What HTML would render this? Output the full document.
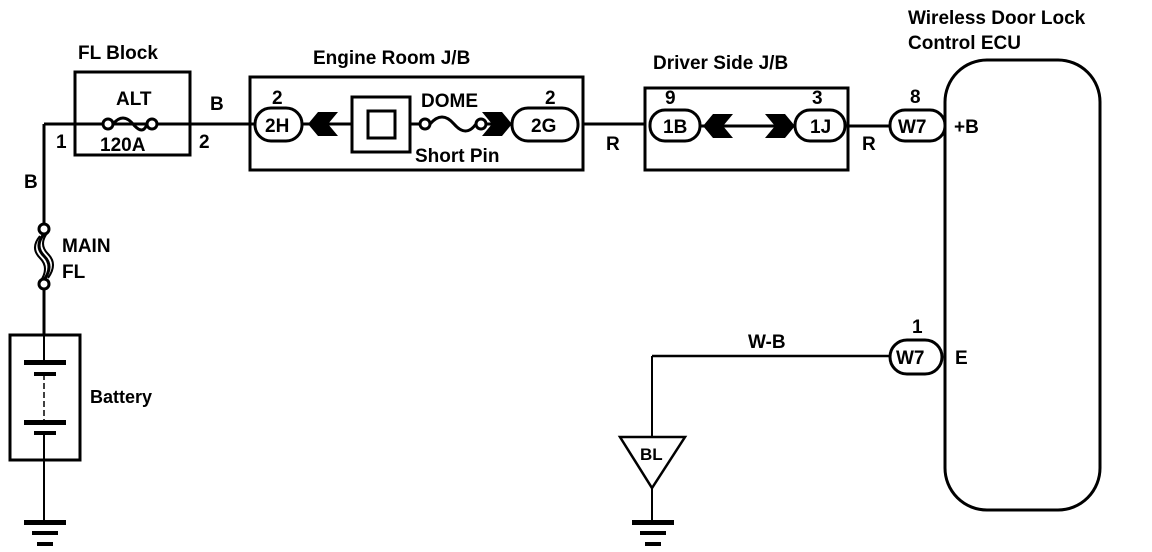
<!DOCTYPE html>
<html><head><meta charset="utf-8"><style>
html,body{margin:0;padding:0;background:#fff;}
svg{display:block;}
text{font-family:"Liberation Sans",Arial,sans-serif;font-weight:bold;font-size:19px;fill:#000;}
.c{font-size:19px;}
</style></head><body>
<svg width="1152" height="552" viewBox="0 0 1152 552" xmlns="http://www.w3.org/2000/svg">
<g stroke="#000" stroke-width="3" fill="none">
<line x1="44" y1="124" x2="255" y2="124"/>
<line x1="44" y1="124" x2="44" y2="224"/>
<line x1="44" y1="289" x2="44" y2="335"/>
<rect x="75" y="72" width="115" height="83"/>
<rect x="250" y="77" width="333" height="93"/>
<rect x="352" y="97" width="58" height="55"/>
<rect x="368" y="111" width="27" height="27"/>
<line x1="302" y1="124" x2="352" y2="124"/>
<line x1="410" y1="124" x2="420" y2="124"/>
<line x1="486" y1="124" x2="505" y2="124"/>
<line x1="583" y1="124" x2="645" y2="124"/>
<rect x="645" y="88" width="203" height="82"/>
<line x1="700" y1="126" x2="795" y2="126"/>
<line x1="848" y1="126" x2="890" y2="126"/>
<rect x="945" y="60" width="155" height="450" rx="42"/>
<line x1="652" y1="356" x2="890" y2="356" stroke-width="2.5"/>
<line x1="652" y1="356" x2="652" y2="437" stroke-width="2"/>
<polygon points="620,437 685,437 652,488" stroke-width="2.5"/>
<line x1="652" y1="488" x2="652" y2="522" stroke-width="2"/>
<rect x="10" y="335" width="70" height="125"/>
<line x1="44" y1="335" x2="44" y2="362" stroke-width="2"/>
<line x1="44" y1="374" x2="44" y2="422" stroke-width="1.5" stroke-dasharray="6,3"/>
<line x1="44" y1="433" x2="44" y2="522" stroke-width="2"/>
</g>
<g fill="#000">
<rect x="24" y="360" width="42" height="5"/><rect x="34" y="372" width="22" height="4"/>
<rect x="24" y="420" width="42" height="5"/><rect x="34" y="431" width="22" height="4"/>
<rect x="24" y="520" width="42" height="5"/><rect x="32" y="531" width="26" height="4"/><rect x="37" y="542" width="16" height="4"/>
<rect x="632" y="520" width="42" height="5"/><rect x="640" y="531" width="26" height="4"/><rect x="645" y="542" width="16" height="4"/>
<polygon points="308,124 318,112 338,112 328,124 338,136 318,136"/>
<polygon points="512,124 502,112 482,112 492,124 482,136 502,136"/>
<polygon points="703,126 713,114 733,114 723,126 733,138 713,138"/>
<polygon points="795,126 785,114 765,114 775,126 765,138 785,138"/>
</g>
<g stroke="#000" stroke-width="3" fill="#fff">
<circle cx="108" cy="124" r="5"/><circle cx="152" cy="124" r="5"/>
<circle cx="425" cy="124" r="5"/><circle cx="481" cy="124" r="5"/>
<circle cx="44" cy="229" r="5"/><circle cx="44" cy="284" r="5"/>
<rect x="255" y="108" width="47" height="33" rx="16"/>
<rect x="512" y="108" width="66" height="33" rx="16"/>
<rect x="650" y="110" width="50" height="31" rx="15"/>
<rect x="795" y="110" width="50" height="31" rx="15"/>
<rect x="890" y="110" width="55" height="31" rx="15"/>
<rect x="890" y="340" width="52" height="34" rx="17"/>
</g>
<g stroke="#000" stroke-width="3" fill="none">
<path d="M113,124 q10,-12 20,0 t14,0"/>
<path d="M430,124 q12,-14 24,0 t22,0"/>
<path d="M44,234 q-10,12 0,22 t0,24"/>
<path d="M40,236 q-10,12 0,22 t0,24" stroke-width="2"/>
<path d="M48,232 q-10,12 0,22 t0,24" stroke-width="2"/>
</g>
<text x="78" y="59">FL Block</text>
<text x="116" y="105">ALT</text>
<text x="100" y="151">120A</text>
<text x="56" y="148">1</text>
<text x="199" y="148">2</text>
<text x="210" y="110">B</text>
<text x="24" y="188">B</text>
<text x="62" y="252">MAIN</text>
<text x="62" y="278">FL</text>
<text x="90" y="403" style="font-size:18px">Battery</text>
<text x="313" y="64">Engine Room J/B</text>
<text x="272" y="104">2</text>
<text x="545" y="104">2</text>
<text x="265" y="132" class="c">2H</text>
<text x="531" y="132" class="c">2G</text>
<text x="421" y="107">DOME</text>
<text x="415" y="162">Short Pin</text>
<text x="606" y="150">R</text>
<text x="653" y="69">Driver Side J/B</text>
<text x="665" y="104">9</text>
<text x="812" y="104">3</text>
<text x="663" y="133" class="c">1B</text>
<text x="810" y="133" class="c">1J</text>
<text x="862" y="150">R</text>
<text x="910" y="103">8</text>
<text x="898" y="133" class="c">W7</text>
<text x="954" y="133">+B</text>
<text x="908" y="24">Wireless Door Lock</text>
<text x="908" y="49">Control ECU</text>
<text x="912" y="333">1</text>
<text x="896" y="364" class="c">W7</text>
<text x="955" y="364">E</text>
<text x="748" y="348">W-B</text>
<text x="640" y="460" style="font-size:17px">BL</text>
</svg>
</body></html>
